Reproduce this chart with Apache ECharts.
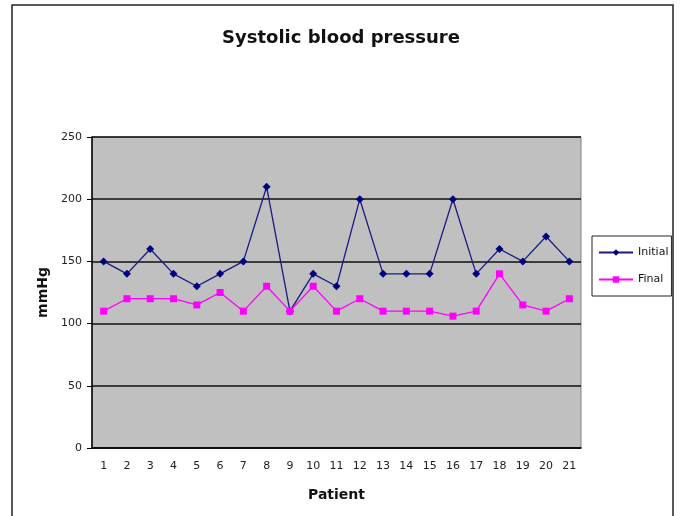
<!DOCTYPE html>
<html lang="en">
<head>
  <meta charset="UTF-8">
  <title>Systolic blood pressure</title>
  <script src="https://cdn.jsdelivr.net/npm/echarts@6/dist/echarts.min.js"></script>
</head>
<style>
  * {
    padding: 0px;
    margin: 0px;
  }
  body {
    background: #fff;
  }
  #main {
    width: 682px;
    height: 516px;
  }
</style>
<body>
<div id="main"></div>
</body>
</html>
<script>
  var patients = ['1', '2', '3', '4', '5', '6', '7', '8', '9', '10', '11', '12', '13', '14', '15', '16', '17', '18', '19', '20', '21'];
  var initialBP = [150, 140, 160, 140, 130, 140, 150, 210, 110, 140, 130, 200, 140, 140, 140, 200, 140, 160, 150, 170, 150];
  var finalBP = [110, 120, 120, 120, 115, 125, 110, 130, 110, 130, 110, 120, 110, 110, 110, 106, 110, 140, 115, 110, 120];

  var myChart = echarts.init(document.getElementById('main'));
  var textFont = 'DejaVu Sans';

  myChart.setOption({
    backgroundColor: '#fff',
    animation: false,
    title: {
      text: 'Systolic blood pressure',
      left: 'center',
      top: 24,
      textStyle: {
        fontFamily: textFont,
        fontSize: 18,
        fontWeight: 'bold',
        color: '#111'
      }
    },
    legend: {
      orient: 'vertical',
      left: 592,
      top: 236,
      padding: [11, 3, 11, 6],
      itemGap: 16,
      itemWidth: 34,
      itemHeight: 8,
      borderColor: '#222',
      borderWidth: 1,
      textStyle: {
        fontFamily: textFont,
        fontSize: 11,
        color: '#111'
      },
      data: ['Initial', 'Final']
    },
    grid: {
      left: 92,
      right: 101,
      top: 137,
      bottom: 68,
      show: true,
      backgroundColor: '#c0c0c0',
      borderColor: '#808080',
      borderWidth: 1
    },
    xAxis: {
      type: 'category',
      data: patients,
      boundaryGap: true,
      name: 'Patient',
      nameLocation: 'middle',
      nameGap: 40,
      nameTextStyle: {
        fontFamily: textFont,
        fontSize: 14,
        fontWeight: 'bold',
        color: '#111'
      },
      axisLine: {lineStyle: {color: '#000', width: 1.5}},
      axisTick: {alignWithLabel: false, length: 4, lineStyle: {color: '#000'}},
      axisLabel: {
        fontFamily: textFont,
        fontSize: 11,
        color: '#222',
        margin: 13
      },
      splitLine: {show: false}
    },
    yAxis: {
      type: 'value',
      min: 0,
      max: 250,
      interval: 50,
      name: 'mmHg',
      nameLocation: 'middle',
      nameGap: 39,
      nameRotate: 90,
      nameTextStyle: {
        fontFamily: textFont,
        fontSize: 14,
        fontWeight: 'bold',
        color: '#111'
      },
      axisLine: {show: true, lineStyle: {color: '#000', width: 1.5}},
      axisTick: {show: true, length: 5, lineStyle: {color: '#000'}},
      axisLabel: {
        fontFamily: textFont,
        fontSize: 11,
        color: '#222',
        margin: 10
      },
      splitLine: {show: true, lineStyle: {color: '#111', width: 1.5}}
    },
    series: [
      {
        name: 'Initial',
        type: 'line',
        data: initialBP,
        symbol: 'diamond',
        symbolSize: 8,
        itemStyle: {color: '#000080'},
        lineStyle: {color: '#1a1a80', width: 1.3}
      },
      {
        name: 'Final',
        type: 'line',
        data: finalBP,
        symbol: 'rect',
        symbolSize: 7,
        itemStyle: {color: '#ff00ff'},
        lineStyle: {color: '#ff00ff', width: 1.3}
      }
    ],
    graphic: [
      {
        type: 'rect',
        shape: {x: 12, y: 5, width: 661, height: 525},
        style: {fill: 'none', stroke: '#222', lineWidth: 1.5},
        silent: true
      }
    ]
  });
</script>
